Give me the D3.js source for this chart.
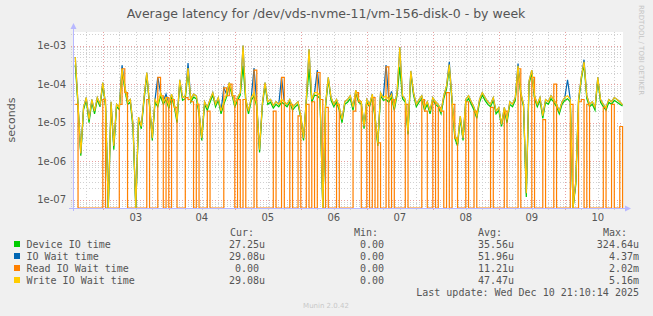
<!DOCTYPE html>
<html>
<head>
<meta charset="utf-8">
<script src="https://cdn.jsdelivr.net/npm/d3@7"></script>
<style>
  body { margin: 0; background: #f0f0f0; }
  svg { display: block; }
</style>
</head>
<body>
<svg id="chart" width="653" height="316"></svg>
<script>
// hourly samples, in microseconds, starting Dec 2 14:00
const deviceIO = [
  320,26,1.4,22,38,10,34,17,40,26,95,26,0,30,2,26,22,200,75,30,
  34,7,0,12,7,38,170,26,3.5,34,26,50,30,40,24,46,26,10,110,38,
  42,210,34,46,42,17,3.5,30,21,34,52,26,38,17,30,46,95,52,26,38,
  52,300,34,17,38,50,26,1.7,26,95,30,34,24,30,26,34,30,26,34,21,
  26,30,13,3.5,34,250,34,52,50,42,0,26,130,38,26,34,21,10,30,34,
  42,21,60,34,30,7,34,26,46,13,2.5,50,38,40,34,46,21,52,280,42,
  34,5,190,52,26,34,42,21,30,17,38,30,26,17,42,75,260,34,4,2.5,
  13,3.5,34,42,30,21,13,34,52,38,30,26,38,17,21,8,21,10,30,26,
  38,250,52,26,0.12,100,200,42,26,38,13,34,30,42,34,26,17,30,38,42,
  34,0,0.25,34,130,324,42,26,30,21,130,34,26,21,34,30,38,34,30,27.25
]
const ioWait = [
  500,30,1.6,25,45,12,40,20,45,30,110,30,0,35,2.5,30,25,310,90,35,
  40,9,0,14,8,45,200,30,4,40,150,60,35,55,28,55,30,12,130,45,
  50,350,40,55,50,20,4,35,25,40,60,30,45,20,80,55,110,60,30,45,
  60,1000,40,20,45,260,30,2,30,110,35,40,28,35,30,150,35,30,40,25,
  30,35,15,4,40,800,40,60,230,50,0,30,150,45,30,40,25,12,35,40,
  50,25,70,40,35,8,40,30,55,15,3,60,45,310,40,65,25,60,900,50,
  40,6,220,60,30,40,50,25,35,20,45,35,30,20,50,90,380,40,5,3,
  15,4,40,50,35,25,15,40,60,45,35,30,45,20,25,9,25,12,35,30,
  45,340,60,30,0.15,120,230,50,30,45,15,40,35,50,40,30,20,35,45,130,
  40,0,0.3,40,150,430,50,30,35,25,150,40,30,25,40,35,45,40,35,29.08
]
const readWait = [
  30,0,0,0,0,0,0,0,0,0,40,0,0,0,0,0,30,250,60,0,
  0,0,0,0,0,0,40,0,0,0,150,50,0,45,0,40,25,0,0,0,
  45,40,35,0,30,0,0,0,20,0,0,0,0,0,80,50,100,50,0,40,
  0,40,0,0,0,230,0,0,0,0,0,0,20,0,0,150,0,0,30,0,
  0,15,0,0,30,0,35,0,200,40,0,25,0,0,0,30,0,0,0,0,
  0,20,60,35,0,0,30,0,45,0,3,0,0,280,0,40,0,0,0,0,
  30,0,0,0,0,0,40,20,0,0,35,0,25,20,0,60,0,30,4,0,
  0,0,35,0,0,20,0,0,0,0,0,25,0,0,0,0,20,0,0,0,
  0,250,0,0,0,0,150,0,0,0,12,0,0,0,100,0,0,0,0,0,
  30,0,0,35,40,0,30,0,0,0,0,0,25,0,0,30,0,0,8,0
]
const writeWait = [
  500,30,1.6,25,45,12,40,20,45,30,110,30,0,35,2.5,30,25,250,90,35,
  40,9,0,14,8,45,200,30,4,40,30,60,35,45,28,55,30,12,130,45,
  50,260,40,55,50,20,4,35,25,40,60,30,45,20,35,55,110,60,30,45,
  60,1000,40,20,45,60,30,2,30,110,35,40,28,35,30,40,35,30,40,25,
  30,35,15,4,40,800,40,60,60,50,0,30,150,45,30,40,25,12,35,40,
  50,25,70,40,35,8,40,30,55,15,3,60,45,50,40,55,25,60,900,50,
  40,6,220,60,30,40,50,25,35,20,45,35,30,20,50,90,320,40,5,3,
  15,4,40,50,35,25,15,40,60,45,35,30,45,20,25,9,25,12,35,30,
  45,300,60,30,0.15,120,230,50,30,45,15,40,35,50,40,30,20,35,45,50,
  40,0,0.3,40,150,380,50,30,35,25,150,40,30,25,40,35,45,40,35,29.08
]

const seriesNames = ["Device IO time", "IO Wait time", "Read IO Wait time", "Write IO Wait time"]
const seriesColors = ["#00cc00", "#0066b3", "#ff8000", "#ffcc00"]
const curLabels = ["27.25u", "29.08u", "0.00", "29.08u"]
const minLabels = ["0.00", "0.00", "0.00", "0.00"]
const avgLabels = ["35.56u", "51.96u", "11.21u", "47.47u"]
const maxLabels = ["324.64u", "4.37m", "2.02m", "5.16m"]
const yTicks = [1e-7, 1e-6, 1e-5, 1e-4, 1e-3]

const pLeft = 73, pRight = 623, pTop = 32, pBottom = 208
const tStart = Date.UTC(2025, 11, 2, 13, 10), tEnd = Date.UTC(2025, 11, 10, 21, 10)
const firstPoint = Date.UTC(2025, 11, 2, 14, 0)
const HOUR = 3600e3

const svg = d3.select('#chart')
const x = d3.scaleUtc().domain([tStart, tEnd]).range([pLeft, pRight])
const y = d3.scaleLog().domain([6.2e-8, 2.24e-3]).range([pBottom, pTop]).clamp(true)

svg.append('rect').attr('x', pLeft).attr('y', pTop).attr('width', pRight - pLeft).attr('height', pBottom - pTop).attr('fill', '#fff')

// grid
let minorY = []
for (let e = -8; e <= -3; e++) for (let k = 2; k <= 9; k++) {
  let v = k * Math.pow(10, e)
  if (v > y.domain()[0] && v < y.domain()[1]) minorY.push(v)
}
let g = svg.append('g')
g.selectAll('.hmin').data(minorY).enter().append('line')
  .attr('x1', pLeft - 2).attr('x2', pRight).attr('y1', d => Math.round(y(d)) + 0.5).attr('y2', d => Math.round(y(d)) + 0.5)
  .attr('stroke', '#d0d0d0').attr('stroke-dasharray', '1,2')
let minorX = d3.utcHour.every(6).range(tStart, tEnd).filter(d => d.getUTCHours() != 0)
g.selectAll('.vmin').data(minorX).enter().append('line')
  .attr('x1', d => Math.round(x(d)) + 0.5).attr('x2', d => Math.round(x(d)) + 0.5).attr('y1', pTop).attr('y2', pBottom + 2)
  .attr('stroke', '#d0d0d0').attr('stroke-dasharray', '1,2')
g.selectAll('.hmaj').data(yTicks).enter().append('line')
  .attr('x1', pLeft - 2).attr('x2', pRight).attr('y1', d => Math.round(y(d)) + 0.5).attr('y2', d => Math.round(y(d)) + 0.5)
  .attr('stroke', '#e8a0a0').attr('stroke-dasharray', '1,2')
let days = d3.utcDay.range(tStart, tEnd)
g.selectAll('.vmaj').data(days).enter().append('line')
  .attr('x1', d => Math.round(x(d)) + 0.5).attr('x2', d => Math.round(x(d)) + 0.5).attr('y1', pTop).attr('y2', pBottom + 3)
  .attr('stroke', '#e8a0a0').attr('stroke-dasharray', '1,2')

// series
const tOf = i => firstPoint + i * HOUR
const yOf = d => y(d > 0 ? d * 1e-6 : 1e-12)
const lineLin = d3.line().x((d, i) => x(tOf(i))).y(yOf)
const lineStep = d3.line().x((d, i) => x(tOf(i))).y(yOf).curve(d3.curveStepAfter)
const seriesData = [deviceIO, ioWait, readWait, writeWait]
svg.append('g').selectAll('path').data(seriesData).enter().append('path')
  .attr('d', (d, i) => i == 2 ? lineStep(d) : lineLin(d))
  .attr('fill', 'none')
  .attr('stroke', (d, i) => seriesColors[i])
  .attr('stroke-width', 1.2)

// axes
const axisCol = '#b8b8ff'
svg.append('line').attr('x1', pLeft + 0.5).attr('x2', pLeft + 0.5).attr('y1', pBottom + 3).attr('y2', pTop - 4).attr('stroke', axisCol)
svg.append('path').attr('d', `M${pLeft - 2.5},${pTop - 3}L${pLeft + 3.5},${pTop - 3}L${pLeft + 0.5},${pTop - 9}Z`).attr('fill', axisCol)
svg.append('line').attr('x1', pLeft - 4).attr('x2', pRight + 3).attr('y1', pBottom + 0.5).attr('y2', pBottom + 0.5).attr('stroke', axisCol)
svg.append('path').attr('d', `M${pRight + 2},${pBottom - 2.5}L${pRight + 2},${pBottom + 3.5}L${pRight + 8},${pBottom + 0.5}Z`).attr('fill', axisCol)

const font = '"DejaVu Sans", sans-serif'
const mono = '"DejaVu Sans Mono", monospace'
svg.append('g').selectAll('text').data(yTicks).enter().append('text')
  .attr('x', 66).attr('y', d => y(d) + 3.5).attr('text-anchor', 'end')
  .attr('font-family', font).attr('font-size', 10).attr('fill', '#555')
  .text(d => '1e-0' + (-Math.log10(d)).toFixed(0))
svg.append('g').selectAll('text').data(days).enter().append('text')
  .attr('x', d => x(+d + 12 * HOUR)).attr('y', 221).attr('text-anchor', 'middle')
  .attr('font-family', font).attr('font-size', 10).attr('fill', '#555')
  .text(d3.utcFormat('%d'))

svg.append('text').attr('x', 326).attr('y', 18).attr('text-anchor', 'middle')
  .attr('font-family', font).attr('font-size', 12.5).attr('fill', '#555')
  .text('Average latency for /dev/vds-nvme-11/vm-156-disk-0 - by week')
svg.append('text').attr('transform', 'translate(15,120) rotate(-90)').attr('text-anchor', 'middle')
  .attr('font-family', font).attr('font-size', 11).attr('fill', '#555').text('seconds')
svg.append('text').attr('transform', 'translate(639,5) rotate(90)')
  .attr('font-family', font).attr('font-size', 7).attr('fill', '#c4c4c4').text('RRDTOOL / TOBI OETIKER')
svg.append('text').attr('x', 326).attr('y', 308).attr('text-anchor', 'middle')
  .attr('font-family', font).attr('font-size', 7).attr('fill', '#c8c8c8').text('Munin 2.0.42')

// legend
const charW = 6.02
const colHead = [["Cur:", 230], ["Min:", 354], ["Avg:", 478], ["Max:", 603]]
const colEnd = [265, 390, 514, 639]
const leg = svg.append('g').attr('font-family', mono).attr('font-size', 10).attr('fill', '#555')
leg.selectAll('.hd').data(colHead).enter().append('text')
  .attr('x', d => d[1]).attr('y', 236).text(d => d[0])
seriesNames.forEach((name, i) => {
  let by = 248 + i * 12
  leg.append('rect').attr('x', 14).attr('y', by - 7).attr('width', 6).attr('height', 6).attr('fill', seriesColors[i])
  leg.append('text').attr('x', 26.5).attr('y', by).text(name)
  ;[curLabels[i], minLabels[i], avgLabels[i], maxLabels[i]].forEach((s, c) => {
    let end = /[a-z]$/.test(s) ? colEnd[c] : colEnd[c] - charW
    leg.append('text').attr('x', end).attr('y', by).attr('text-anchor', 'end').text(s)
  })
})
leg.append('text').attr('x', 639).attr('y', 296).attr('text-anchor', 'end').text('Last update: Wed Dec 10 21:10:14 2025')
</script>
</body>
</html>
